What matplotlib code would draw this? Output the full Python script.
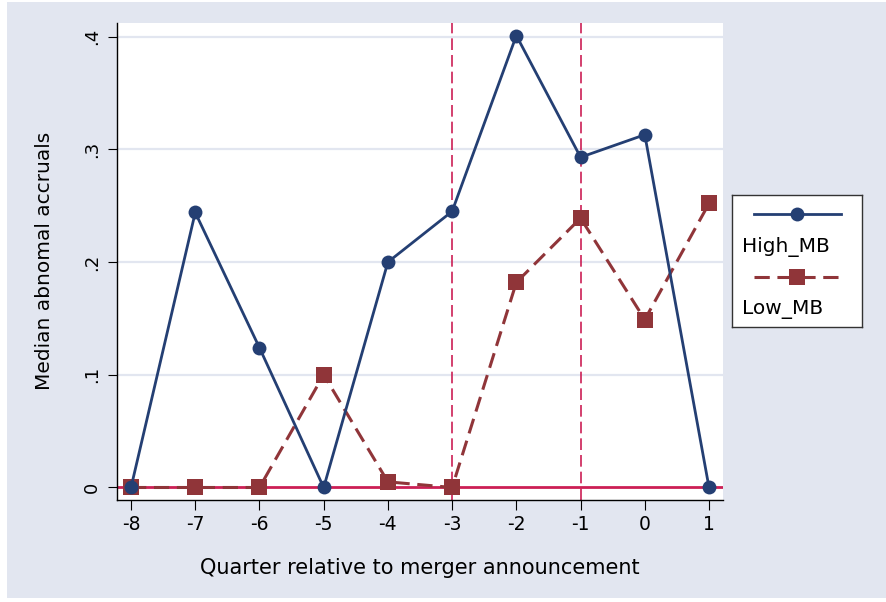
import matplotlib
matplotlib.use("Agg")
import matplotlib.pyplot as plt
from matplotlib.patches import Rectangle

# quarter relative to announcement and median abnormal accruals
quarters = [-8, -7, -6, -5, -4, -3, -2, -1, 0, 1]
high_mb = [0.0, 0.244, 0.124, 0.0, 0.200, 0.245, 0.401, 0.293, 0.313, 0.0]
low_mb = [0.0, 0.0, 0.0, 0.100, 0.005, 0.0, 0.182, 0.239, 0.149, 0.252]
event_lines = [-3, -1]
yticks = [0, 0.1, 0.2, 0.3, 0.4]
ytick_labels = ["0", ".1", ".2", ".3", ".4"]

navy = "#243f73"
maroon = "#903539"
crimson = "#cc1f55"
bg = "#e2e6f0"

plt.rcParams['font.family'] = ['DejaVu Sans']

W, H = 886, 602
fig = plt.figure(figsize=(W / 100, H / 100), dpi=100)
fig.patch.set_facecolor("white")
fig.patches.append(Rectangle((7 / W, 4 / H), 1 - 7 / W, 1 - 6 / H,
                             transform=fig.transFigure, facecolor=bg,
                             edgecolor="none", zorder=-10))

x0, x1, y0, y1 = 116.7, 722.7, 22.7, 500.0
ax = fig.add_axes([x0 / W, 1 - y1 / H, (x1 - x0) / W, (y1 - y0) / H])
ax.set_facecolor("white")

for yt in yticks[1:]:
    ax.axhline(yt, color=bg, lw=1.6, zorder=1)
ax.axhline(0, color=crimson, lw=2.0, zorder=2)
for xv in event_lines:
    ax.axvline(xv, color=crimson, lw=1.2, dashes=(7, 3), zorder=2)

ax.plot(quarters, high_mb, color=navy, lw=2.0, marker="o", ms=10,
        markeredgewidth=0, zorder=4)
ax.plot(quarters, low_mb, color=maroon, lw=2.2, dashes=(5, 2.5), marker="s",
        ms=12, markeredgewidth=0, zorder=3)

ax.set_xlim(-8.223, 1.213)
ax.set_ylim(-0.0111, 0.4124)
ax.set_xticks(quarters)
ax.set_xticklabels([str(q) for q in quarters], fontsize=13.5)
ax.set_yticks(yticks)
ax.set_yticklabels(ytick_labels, fontsize=13, rotation=90, va="center")
ax.tick_params(axis="y", length=6.5, width=0.8, pad=5)
ax.tick_params(axis="x", length=7, width=0.8, pad=4)
for s in ["top", "right"]:
    ax.spines[s].set_visible(False)
for s in ["left", "bottom"]:
    ax.spines[s].set_linewidth(1.0)

ax.set_xlabel("Quarter relative to merger announcement", fontsize=15, labelpad=17)
ax.set_ylabel("Median abnomal accruals", fontsize=14.5, labelpad=21)

# legend box: entry key above its label
lx0, lx1, ly0, ly1 = 731.7, 862.3, 195.0, 327.0
lg = fig.add_axes([lx0 / W, 1 - ly1 / H, (lx1 - lx0) / W, (ly1 - ly0) / H])
lg.set_xlim(lx0, lx1)
lg.set_ylim(ly1, ly0)
lg.set_xticks([])
lg.set_yticks([])
lg.set_facecolor("white")
for s in lg.spines.values():
    s.set_color("#333333")
    s.set_linewidth(1.0)
lg.plot([754, 797, 840.7], [213.7] * 3, color=navy, lw=2.0, marker="o",
        ms=10, markeredgewidth=0, markevery=[1])
lg.plot([754, 797, 840.7], [276.7] * 3, color=maroon, lw=2.2, dashes=(5, 2.5),
        marker="s", ms=12, markeredgewidth=0, markevery=[1])
lg.text(741.7, 247, "High_MB", fontsize=14.5, va="center", ha="left")
lg.text(741.7, 310, "Low_MB", fontsize=14.5, va="center", ha="left")

fig.savefig("out.png", dpi=100, facecolor=fig.get_facecolor())
